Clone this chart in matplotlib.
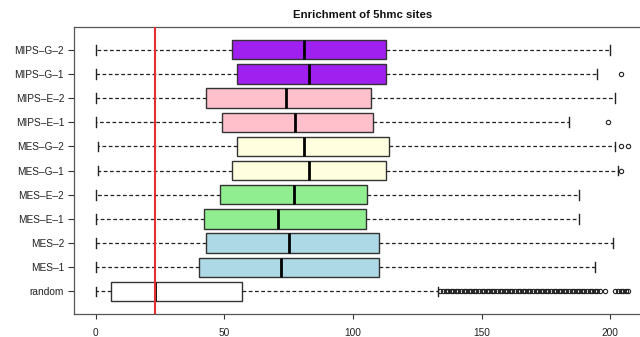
import matplotlib
matplotlib.use("Agg")
import matplotlib.pyplot as plt

plt.rcParams["font.family"] = ["Liberation Sans", "DejaVu Sans"]

# Groups listed from bottom to top
labels = ["random", "MES–1", "MES–2", "MES–E–1", "MES–E–2", "MES–G–1",
          "MES–G–2", "MIPS–E–1", "MIPS–E–2", "MIPS–G–1", "MIPS–G–2"]
fills = ["white", "#ADD8E6", "#ADD8E6", "#90EE90", "#90EE90", "#FFFFE0",
         "#FFFFE0", "#FFC0CB", "#FFC0CB", "#A020F0", "#A020F0"]

whisker_low = [0, 0, 0, 0, 0, 1, 1, 0, 0, 0, 0]
q1 = [6, 40, 43, 42, 48.5, 53, 55, 49, 43, 55, 53]
median = [23, 72, 75, 71, 77, 83, 81, 77.5, 74, 83, 81]
q3 = [57, 110, 110, 105, 105.5, 113, 114, 108, 107, 113, 113]
whisker_high = [133, 194, 201, 188, 188, 203, 202, 184, 202, 195, 200]

outliers = [
    [134, 135, 136, 137, 138, 139, 140, 141, 142, 143, 144, 145, 146, 147,
     148, 149, 150, 151, 152, 153, 154, 155, 156, 157, 158, 159, 160, 161,
     162, 163, 164, 165, 166, 167, 168, 169, 170, 171, 172, 173, 174, 175,
     176, 177, 178, 179, 180, 181, 182, 183, 184, 185, 186, 187, 188, 189,
     190, 191, 192, 193, 194, 195, 196, 198, 202, 203, 204, 205, 206, 207],
    [], [], [], [],
    [204],
    [204, 207],
    [199],
    [],
    [204],
    [],
]

reference_level = 23

fig = plt.figure(figsize=(6.4, 3.37), dpi=100)
ax = fig.add_axes([0.116, 0.068, 0.899, 0.852])

stats = []
for i in range(len(labels)):
    stats.append(dict(label=labels[i], whislo=whisker_low[i], q1=q1[i],
                      med=median[i], q3=q3[i], whishi=whisker_high[i],
                      fliers=outliers[i]))

bp = ax.bxp(stats, vert=False, widths=0.8, patch_artist=True,
            positions=range(1, len(labels) + 1),
            boxprops=dict(edgecolor="#333333", linewidth=1.0),
            medianprops=dict(color="black", linewidth=2.0, solid_capstyle="butt"),
            whiskerprops=dict(color="#222222", linewidth=0.9,
                              linestyle=(0, (3, 2))),
            capprops=dict(color="#222222", linewidth=1.0),
            capwidths=0.4,
            flierprops=dict(marker="o", markersize=3.1, markerfacecolor="none",
                            markeredgecolor="#222222", markeredgewidth=0.8))
for patch, color in zip(bp["boxes"], fills):
    patch.set_facecolor(color)

ax.axvline(reference_level, color="#E3302E", linewidth=1.5, zorder=5)

ax.set_xlim(-8.3, 215.3)
ax.set_ylim(0.06, 11.94)
ax.set_xticks([0, 50, 100, 150, 200])
ax.set_yticks(range(1, len(labels) + 1))
ax.set_yticklabels(labels)
ax.tick_params(axis="both", labelsize=7.3, width=0.8,
               color="#333333", labelcolor="#222222")
ax.tick_params(axis="x", length=3.6, pad=6.3)
ax.tick_params(axis="y", length=4.3, pad=3)
for sp in ax.spines.values():
    sp.set_color("#555555")
    sp.set_linewidth(0.9)

fig.text(0.566, 0.955, "Enrichment of 5hmc sites", ha="center", va="center",
         fontsize=8.2, fontweight="bold", color="#111111")

fig.savefig("out.png", dpi=100)
